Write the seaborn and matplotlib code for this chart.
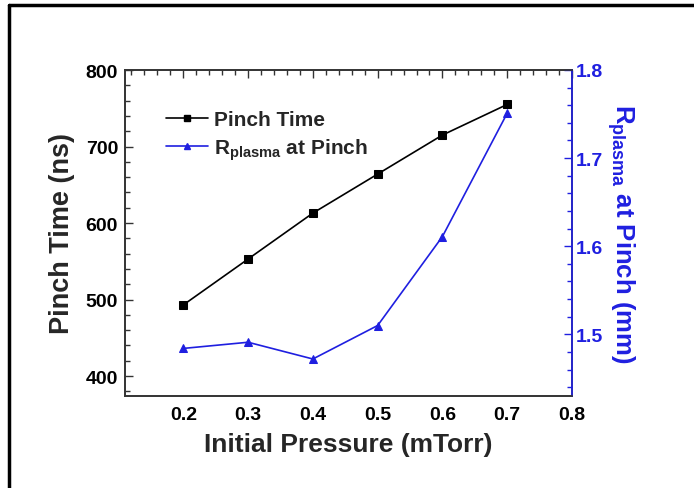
import matplotlib
matplotlib.use("Agg")
import matplotlib.pyplot as plt
import seaborn as sns
import numpy as np
from matplotlib.ticker import AutoMinorLocator
from matplotlib.lines import Line2D

pressure = [0.2, 0.3, 0.4, 0.5, 0.6, 0.7]
pinch_time = [493, 553, 613, 664, 715, 755]
r_plasma = [1.484, 1.491, 1.472, 1.510, 1.611, 1.751]
x_ticks = [0.2, 0.3, 0.4, 0.5, 0.6, 0.7, 0.8]
left_ticks = [400, 500, 600, 700, 800]
right_ticks = [1.5, 1.6, 1.7, 1.8]

sns.set_style("white")
plt.rcParams['font.family'] = ['Liberation Sans', 'DejaVu Sans']
plt.rcParams['font.weight'] = 'bold'
plt.rcParams['mathtext.fontset'] = 'custom'
plt.rcParams['mathtext.rm'] = 'Liberation Sans:bold'
plt.rcParams['mathtext.bf'] = 'Liberation Sans:bold'
plt.rcParams['mathtext.it'] = 'Liberation Sans:bold'

BLUE = '#1f1fe0'

fig = plt.figure(figsize=(6.94, 4.89), dpi=100)
ax = fig.add_axes([125/694, 1-397/489, (572-125)/694, (397-71)/489])
ax2 = ax.twinx()

sns.lineplot(x=pressure, y=pinch_time, ax=ax, color='black', marker='s',
             markersize=6, markeredgecolor='black', linewidth=1.2)
sns.lineplot(x=pressure, y=r_plasma, ax=ax2, color=BLUE, marker='^',
             markersize=6, markeredgecolor=BLUE, linewidth=1.2)

ax.set_xlim(0.11, 0.8)
ax.set_ylim(374, 800)
ax2.set_ylim(1.43, 1.8)

ax.set_xticks(x_ticks)
ax.set_xticklabels([f"{v:.1f}" for v in x_ticks])
ax.set_yticks(left_ticks)
ax.set_yticklabels([str(v) for v in left_ticks])
ax2.set_yticks(right_ticks)
ax2.set_yticklabels([f"{v:.1f}" for v in right_ticks])

ax.xaxis.set_minor_locator(AutoMinorLocator(5))
ax.yaxis.set_minor_locator(AutoMinorLocator(5))
ax2.yaxis.set_minor_locator(AutoMinorLocator(5))

for a in (ax, ax2):
    for s in a.spines.values():
        s.set_linewidth(1.2)
        s.set_color('#333333')
ax2.spines['right'].set_color(BLUE)

ax.tick_params(axis='both', which='both', direction='in', top=True, right=False,
               labelsize=14, width=1.0, colors='#333333', labelcolor='black')
ax.tick_params(which='major', length=6)
ax.tick_params(which='minor', length=3.5)
ax.tick_params(axis='x', pad=7)
ax.tick_params(axis='y', pad=5)
ax2.tick_params(axis='y', which='both', direction='in', colors=BLUE,
                labelcolor=BLUE, labelsize=14, width=1.0, pad=3)
ax2.tick_params(which='major', length=6)
ax2.tick_params(which='minor', length=3.5)

for lab in ax.get_xticklabels() + ax.get_yticklabels() + ax2.get_yticklabels():
    lab.set_fontweight('bold')

ax.set_xlabel('Initial Pressure (mTorr)', fontsize=19, fontweight='bold', labelpad=7)
ax.set_ylabel('Pinch Time (ns)', fontsize=19.5, fontweight='bold', labelpad=8)
ax2.set_ylabel(r'R$_{\mathrm{plasma}}$ at Pinch (mm)', fontsize=18.5, fontweight='bold',
               color=BLUE, rotation=270, labelpad=24)

handles = [Line2D([], [], color='black', marker='s', markersize=5, linewidth=1.2),
           Line2D([], [], color=BLUE, marker='^', markersize=5, linewidth=1.2)]
ax.legend(handles, ['Pinch Time', r'R$\mathregular{_{plasma}}$ at Pinch'],
          loc='upper left', bbox_to_anchor=(0.05, 0.935), frameon=False,
          prop={'size': 15, 'weight': 'bold'}, handlelength=2.0,
          handletextpad=0.3, labelspacing=0.35)

# figure border (top and left visible)
fig.add_artist(Line2D([8.5/694, 1.0], [1-5.5/489, 1-5.5/489], color='black',
                      linewidth=2.5, transform=fig.transFigure))
fig.add_artist(Line2D([8.5/694, 8.5/694], [0.0, 1-5.5/489], color='black',
                      linewidth=2.5, transform=fig.transFigure))

fig.savefig('out.png', dpi=100)
